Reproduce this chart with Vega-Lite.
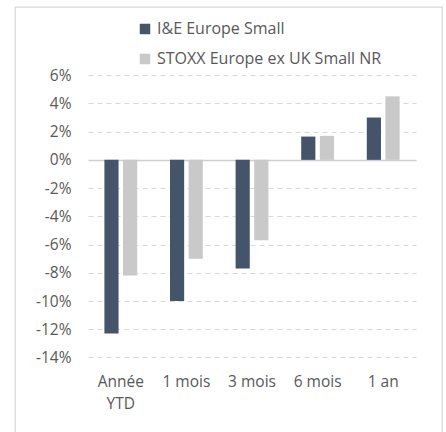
{
  "$schema": "https://vega.github.io/schema/vega-lite/v6.json",
  "width": 427,
  "height": 426,
  "autosize": {"type": "none"},
  "padding": {"left": 15, "top": 7, "right": 4, "bottom": 0},
  "background": "white",
  "config": {"view": {"stroke": "#D9D9D9", "strokeWidth": 1.3}, "font": "Open Sans"},
  "data": {"values": [
    {"periode": "Année YTD", "serie": "I&E Europe Small", "valeur": -0.123},
    {"periode": "Année YTD", "serie": "STOXX Europe ex UK Small NR", "valeur": -0.082},
    {"periode": "1 mois", "serie": "I&E Europe Small", "valeur": -0.100},
    {"periode": "1 mois", "serie": "STOXX Europe ex UK Small NR", "valeur": -0.070},
    {"periode": "3 mois", "serie": "I&E Europe Small", "valeur": -0.077},
    {"periode": "3 mois", "serie": "STOXX Europe ex UK Small NR", "valeur": -0.057},
    {"periode": "6 mois", "serie": "I&E Europe Small", "valeur": 0.0165},
    {"periode": "6 mois", "serie": "STOXX Europe ex UK Small NR", "valeur": 0.017},
    {"periode": "1 an", "serie": "I&E Europe Small", "valeur": 0.030},
    {"periode": "1 an", "serie": "STOXX Europe ex UK Small NR", "valeur": 0.045}
  ]},
  "mark": {"type": "bar"},
  "encoding": {
    "x": {
      "field": "periode", "type": "nominal",
      "sort": ["Année YTD", "1 mois", "3 mois", "6 mois", "1 an"],
      "scale": {"range": [73, 401], "paddingInner": 0.5, "paddingOuter": 0.25},
      "axis": {
        "title": null, "domain": false, "ticks": false, "labelAngle": 0,
        "labelPadding": -59, "labelFontSize": 15.5, "labelColor": "#595959",
        "labelLineHeight": 22,
        "labelExpr": "datum.label == 'Année YTD' ? ['Année', 'YTD'] : datum.label"
      }
    },
    "xOffset": {
      "field": "serie", "type": "nominal",
      "sort": ["I&E Europe Small", "STOXX Europe ex UK Small NR"],
      "scale": {"paddingInner": 0.24, "paddingOuter": 0}
    },
    "y": {
      "field": "valeur", "type": "quantitative",
      "scale": {"domain": [-0.1935, 0.1083], "nice": false},
      "axis": {
        "title": null, "domain": false, "ticks": false,
        "values": [-0.14, -0.12, -0.1, -0.08, -0.06, -0.04, -0.02, 0, 0.02, 0.04, 0.06],
        "format": ".0%", "labelExpr": "replace(datum.label, '−', '-')",
        "labelPadding": -56, "labelFontSize": 15.5, "labelColor": "#595959",
        "gridColor": {"condition": {"test": "datum.value === 0", "value": "#D0D0D0"}, "value": "#D9D9D9"},
        "gridDash": {"condition": {"test": "datum.value === 0", "value": []}, "value": [5, 4]},
        "gridWidth": {"condition": {"test": "datum.value === 0", "value": 1.5}, "value": 1}
      }
    },
    "color": {
      "field": "serie", "type": "nominal",
      "sort": ["I&E Europe Small", "STOXX Europe ex UK Small NR"],
      "scale": {"range": ["#44546A", "#C9C9C9"]},
      "legend": {
        "orient": "none", "legendX": 122, "legendY": 14, "title": null,
        "symbolType": "square", "symbolSize": 110, "symbolStrokeWidth": 0,
        "labelFontSize": 16, "labelColor": "#595959", "rowPadding": 14, "labelOffset": 4,
        "labelLimit": 320
      }
    }
  }
}
